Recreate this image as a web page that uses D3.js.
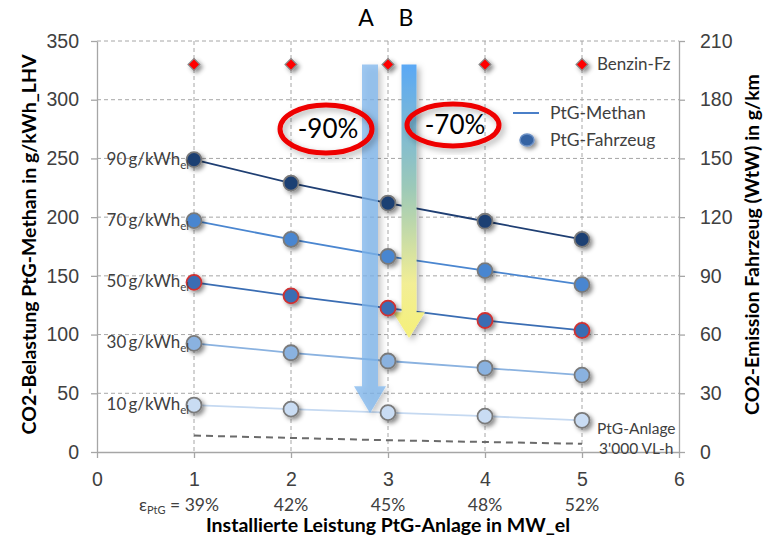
<!DOCTYPE html>
<html>
<head>
<meta charset="utf-8">
<script src="https://cdn.jsdelivr.net/npm/d3@7"></script>
<style>
  body { margin: 0; background: #fff; }
  svg { font-family: Lato, "Open Sans", sans-serif; }
</style>
</head>
<body>
<svg id="chart" width="771" height="539"></svg>
<script>
// Installed PtG capacity (MW_el) and the matching plant efficiency
const capacity = [1, 2, 3, 4, 5];
const efficiency = ["39%", "42%", "45%", "48%", "52%"];

// CO2 load of PtG methane (g/kWh_LHV) for several grid-electricity intensities
const seriesNames = ["90", "70", "50", "30", "10"];
const methan90 = [249, 229, 212, 196.5, 181];
const methan70 = [197, 181, 166.5, 154.5, 142.5];
const methan50 = [144.5, 133, 122.5, 112, 103.5];
const methan30 = [92.5, 84.5, 77.5, 71.5, 65.5];
const methan10 = [40, 36.5, 33.5, 30.5, 27];
// PtG plant share at 3'000 full-load hours
const plantShare = [14, 12, 10, 8.5, 7];
// Petrol car reference
const benzin = [330, 330, 330, 330, 330];

const xTicks = [0, 1, 2, 3, 4, 5, 6];
const yLeftTicks = [0, 50, 100, 150, 200, 250, 300, 350];
const yRightTicks = [0, 30, 60, 90, 120, 150, 180, 210];

const lineColors = ["#1f3f73", "#4a86d0", "#3a6db3", "#8ab2e0", "#c5d9f1"];
const fillColors = ["#1f3f73", "#4a86d0", "#3a6db3", "#8ab2e0", "#c9dcf3"];
const strokeColors = ["#7a7a7a", "#7a7a7a", "#d03030", "#7a7a7a", "#7a7a7a"];
const allSeries = [methan90, methan70, methan50, methan30, methan10];

const svg = d3.select("#chart");
const M = { left: 97, right: 679, top: 41, bottom: 452 };

const x = d3.scaleLinear().domain([0, 6]).range([M.left, M.right]);
const y = d3.scaleLinear().domain([0, 350]).range([M.bottom, M.top]);
const yR = d3.scaleLinear().domain([0, 210]).range([M.bottom, M.top]);

const defs = svg.append("defs");
const shadow = defs.append("filter").attr("id", "shadow")
  .attr("x", "-60%").attr("y", "-60%").attr("width", "240%").attr("height", "240%");
shadow.append("feDropShadow").attr("dx", 2.5).attr("dy", 2.5).attr("stdDeviation", 2)
  .attr("flood-color", "#000").attr("flood-opacity", 0.45);

const softShadow = defs.append("filter").attr("id", "softShadow")
  .attr("x", "-40%").attr("y", "-20%").attr("width", "180%").attr("height", "140%");
softShadow.append("feDropShadow").attr("dx", 3).attr("dy", 3).attr("stdDeviation", 3)
  .attr("flood-color", "#000").attr("flood-opacity", 0.3);

const gradB = defs.append("linearGradient").attr("id", "gradB")
  .attr("x1", 0).attr("y1", 0).attr("x2", 0).attr("y2", 1);
gradB.append("stop").attr("offset", "0%").attr("stop-color", "#5aa8f5");
gradB.append("stop").attr("offset", "45%").attr("stop-color", "#9cc9b8");
gradB.append("stop").attr("offset", "80%").attr("stop-color", "#f2ee95");
gradB.append("stop").attr("offset", "100%").attr("stop-color", "#f5f07a");

// Gridlines
const grid = svg.append("g");
grid.selectAll(".hg").data(yLeftTicks.slice(1)).join("line")
  .attr("x1", M.left).attr("x2", M.right)
  .attr("y1", d => y(d)).attr("y2", d => y(d))
  .attr("stroke", "#a6a6a6").attr("stroke-dasharray", "4,3").attr("stroke-width", 1);
grid.selectAll(".vg").data(capacity).join("line")
  .attr("x1", d => x(d)).attr("x2", d => x(d))
  .attr("y1", M.top).attr("y2", M.bottom)
  .attr("stroke", "#a6a6a6").attr("stroke-dasharray", "4,3").attr("stroke-width", 1);

// Axes
const axisStyle = g => {
  g.selectAll(".domain").attr("stroke", "#a6a6a6").attr("stroke-width", 1.3);
  g.selectAll(".tick line").attr("stroke", "#a6a6a6").attr("stroke-width", 1.3);
  g.selectAll("text").attr("fill", "#404040").attr("font-size", 19.5);
};
svg.append("g").attr("transform", `translate(0,${M.bottom})`)
  .call(d3.axisBottom(x).tickValues(xTicks).tickFormat(d3.format("d"))
    .tickSize(6).tickSizeOuter(0).tickPadding(14))
  .call(axisStyle);
svg.append("g").attr("transform", `translate(${M.left},0)`)
  .call(d3.axisLeft(y).tickValues(yLeftTicks).tickFormat(d3.format("d"))
    .tickSize(6).tickSizeOuter(0).tickPadding(12))
  .call(axisStyle);
svg.append("g").attr("transform", `translate(${M.right},0)`)
  .call(d3.axisRight(yR).tickValues(yRightTicks).tickFormat(d3.format("d"))
    .tickSize(6).tickSizeOuter(0).tickPadding(15))
  .call(axisStyle);

// Efficiency labels below the capacity ticks
const effG = svg.append("g").attr("fill", "#404040").attr("font-size", 17.5);
effG.selectAll("text").data(capacity).join("text")
  .attr("x", d => x(d)).attr("y", 511).attr("text-anchor", "middle")
  .text((d, i) => i === 0 ? "" : efficiency[i]);
const eps = effG.append("text").attr("x", x(1) + 25).attr("y", 511).attr("text-anchor", "end");
eps.append("tspan").text("ε");
eps.append("tspan").attr("font-size", 11).attr("dy", 3).text("PtG");
eps.append("tspan").attr("dy", -3).text(" = " + efficiency[0]);

// Axis titles
svg.append("text").attr("x", x(3)).attr("y", 532).attr("text-anchor", "middle")
  .attr("font-weight", "bold").attr("font-size", 19.5).attr("fill", "#000")
  .text("Installierte Leistung PtG-Anlage in MW_el");
svg.append("text").attr("transform", `translate(36,${(M.top + M.bottom) / 2 - 2}) rotate(-90)`)
  .attr("text-anchor", "middle").attr("font-weight", "bold").attr("font-size", 19.5).attr("fill", "#000")
  .text("CO2-Belastung PtG-Methan in g/kWh_LHV");
svg.append("text").attr("transform", `translate(759,${(M.top + M.bottom) / 2 - 2}) rotate(-90)`)
  .attr("text-anchor", "middle").attr("font-weight", "bold").attr("font-size", 19.5).attr("fill", "#000")
  .text("CO2-Emission Fahrzeug (WtW) in g/km");

// PtG plant share (dashed)
const line = d3.line().x((d, i) => x(capacity[i])).y(d => y(d));
svg.append("path").datum(plantShare).attr("d", line)
  .attr("fill", "none").attr("stroke", "#6b6b6b").attr("stroke-width", 2).attr("stroke-dasharray", "7,5");

// Methane series lines
allSeries.forEach((s, k) => {
  svg.append("path").datum(s).attr("d", line)
    .attr("fill", "none").attr("stroke", lineColors[k]).attr("stroke-width", 1.8);
});

// Reduction arrows A (blue, translucent) and B (blue-to-yellow)
function arrowPath(cx, top, shaftW, headTop, headW, tip) {
  return `M${cx - shaftW / 2},${top} L${cx + shaftW / 2},${top} L${cx + shaftW / 2},${headTop}` +
    ` L${cx + headW / 2},${headTop} L${cx},${tip} L${cx - headW / 2},${headTop}` +
    ` L${cx - shaftW / 2},${headTop} Z`;
}
svg.append("path").attr("d", arrowPath(370, y(330), 16, y(56), 32, y(33)))
  .attr("fill", "#7fb5ec").attr("fill-opacity", 0.75).attr("filter", "url(#softShadow)");
svg.append("path").attr("d", arrowPath(409, y(330), 15, y(119), 32, y(97)))
  .attr("fill", "url(#gradB)").attr("filter", "url(#softShadow)");

// Markers
allSeries.forEach((s, k) => {
  svg.append("g").selectAll("circle").data(s).join("circle")
    .attr("cx", (d, i) => x(capacity[i])).attr("cy", d => y(d)).attr("r", 7.5)
    .attr("fill", fillColors[k]).attr("stroke", strokeColors[k]).attr("stroke-width", 1.8)
    .attr("filter", "url(#shadow)");
});

// Petrol car reference diamonds
svg.append("g").selectAll("path").data(benzin).join("path")
  .attr("transform", (d, i) => `translate(${x(capacity[i])},${y(d)})`)
  .attr("d", d3.symbol(d3.symbolDiamond2, 90)())
  .attr("fill", "#ff0000").attr("stroke", "#8a8a8a").attr("stroke-width", 1.2)
  .attr("filter", "url(#shadow)");

// Series labels (grid intensity)
const lab = svg.append("g").attr("fill", "#404040").attr("font-size", 17);
seriesNames.forEach((n, k) => {
  const t = lab.append("text").attr("x", x(1) - 5).attr("y", y(allSeries[k][0]) + 5)
    .attr("text-anchor", "end");
  t.append("tspan").text(n + "\u2009g/kWh");
  t.append("tspan").attr("font-size", 11.5).attr("dy", 4).text("el");
});

// Annotations
const ann = svg.append("g").attr("fill", "#404040");
ann.append("text").attr("x", 597).attr("y", y(330) + 6).attr("font-size", 17).text("Benzin-Fz");
ann.append("text").attr("x", 597).attr("y", 434).attr("font-size", 15.5).text("PtG-Anlage");
ann.append("text").attr("x", 599).attr("y", 454).attr("font-size", 15.5).text("3'000 VL-h");

svg.append("text").attr("x", 366).attr("y", 26).attr("text-anchor", "middle")
  .attr("font-size", 23).attr("fill", "#000").text("A");
svg.append("text").attr("x", 406).attr("y", 26).attr("text-anchor", "middle")
  .attr("font-size", 23).attr("fill", "#000").text("B");

// Reduction ellipses
const ellipses = [{ cx: 326, cy: 129, rx: 46, ry: 24, t: "-90%" }, { cx: 453, cy: 125, rx: 46, ry: 21, t: "-70%" }];
ellipses.forEach(e => {
  svg.append("ellipse").attr("cx", e.cx).attr("cy", e.cy).attr("rx", e.rx).attr("ry", e.ry)
    .attr("fill", "none").attr("stroke", "#ee0000").attr("stroke-width", 5)
    .attr("filter", "url(#softShadow)");
  svg.append("text").attr("x", e.cx + 2).attr("y", e.cy + 9).attr("text-anchor", "middle")
    .attr("font-size", 26).attr("fill", "#000").text(e.t);
});

// Legend
svg.append("line").attr("x1", 513).attr("x2", 539).attr("y1", 113).attr("y2", 113)
  .attr("stroke", "#4a7fc8").attr("stroke-width", 2);
svg.append("ellipse").attr("cx", 527).attr("cy", 140).attr("rx", 7).attr("ry", 6)
  .attr("fill", "#3563a3").attr("stroke", "#6b8fc4").attr("stroke-width", 1.5)
  .attr("filter", "url(#shadow)");
svg.append("text").attr("x", 550).attr("y", 119).attr("font-size", 17.5).attr("fill", "#404040").text("PtG-Methan");
svg.append("text").attr("x", 550).attr("y", 146).attr("font-size", 17.5).attr("fill", "#404040").text("PtG-Fahrzeug");
</script>
</body>
</html>
